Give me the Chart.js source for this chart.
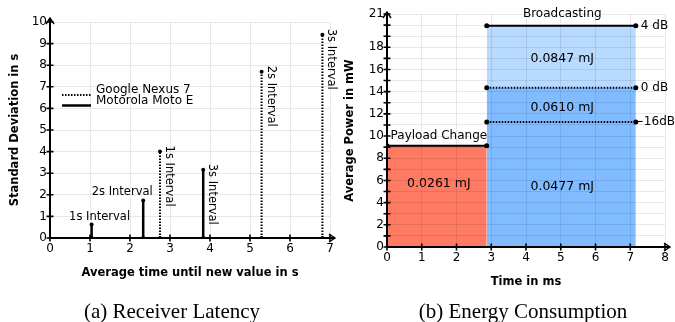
<!DOCTYPE html>
<html>
<head>
<meta charset="utf-8">
<script src="https://cdn.jsdelivr.net/npm/chart.js@4.4.1/dist/chart.umd.min.js"></script>
<style>
  body { margin: 0; background: #fff; width: 675px; height: 322px; position: relative; overflow: hidden; }
  .box { position: absolute; top: 0; height: 300px; }
  #left { left: 0; width: 338px; }
  #right { left: 338px; width: 337px; }
  .caption { position: absolute; top: 300px; width: 240px; height: 23px; line-height: 23px; text-align: center;
             font-family: "Liberation Serif", "Times New Roman", serif; font-size: 21px; color: #000; }
</style>
</head>
<body>
<div class="box" id="left"><canvas id="latencyChart" width="338" height="300"></canvas></div>
<div class="box" id="right"><canvas id="energyChart" width="337" height="300"></canvas></div>
<div class="caption" style="left:52px">(a) Receiver Latency</div>
<div class="caption" style="left:403px">(b) Energy Consumption</div>
<script>
// (a) receiver latency
const intervalNames = ['1s Interval', '2s Interval', '3s Interval'];
const nexusTime = [2.75, 5.29, 6.81];
const nexusStd = [4.0, 7.7, 9.41];
const motoTime = [1.04, 2.33, 3.83];
const motoStd = [0.62, 1.74, 3.16];
const latencyXTicks = [0, 1, 2, 3, 4, 5, 6, 7];
const latencyYTicks = [0, 1, 2, 3, 4, 5, 6, 7, 8, 9, 10];

// (b) energy consumption
const phaseNames = ['Payload Change', 'Broadcasting'];
const phaseStart = [0, 2.87];
const phaseEnd = [2.87, 7.16];
const payloadPower = 9.13;
const txPowerNames = ['−16dB', '0 dB', '4 dB'];
const txPower = [11.26, 14.36, 19.95];
const energyNames = ['0.0261 mJ', '0.0477 mJ', '0.0610 mJ', '0.0847 mJ'];
const energyXTicks = [0, 1, 2, 3, 4, 5, 6, 7, 8];
const energyYTicks = [0, 1, 2, 3, 4, 5, 6, 7, 8, 9, 10, 11, 12, 13, 14, 15, 16, 17, 18, 19, 20, 21];
const energyYLabels = [0, 2, 4, 6, 8, 10, 12, 14, 16, 18, 21];

const sans = "'DejaVu Sans', sans-serif";
Chart.defaults.font.family = sans;
Chart.defaults.font.size = 12;
Chart.defaults.color = '#000';
Chart.defaults.animation = false;

const gridColor = 'rgba(0,0,0,0.09)';
const dots = [1.5, 1.5];

function lollipops(xs, ys) {
    var pts = [];
    xs.forEach((x, i) => {
        pts.push({x: x, y: 0}, {x: x, y: ys[i]}, {x: x, y: null});
    });
    return pts;
}

function fixedTicks(values) {
    return function(scale) {
        scale.ticks = values.map((v) => ({value: v}));
    };
}

// black axes with arrow heads and small tick crosses
const axesPlugin = {
    id: 'axes',
    afterDraw(chart, args, opts) {
        var ctx = chart.ctx;
        var a = chart.chartArea;
        var sx = chart.scales.x, sy = chart.scales.y;
        var xTip = a.right + opts.arrowX, yTip = a.top - opts.arrowY;
        ctx.save();
        ctx.strokeStyle = '#000';
        ctx.lineWidth = 1.6;
        ctx.beginPath();
        sx.ticks.forEach((t) => {
            var px = sx.getPixelForValue(t.value);
            ctx.moveTo(px, a.bottom - 3.5);
            ctx.lineTo(px, a.bottom + 3.5);
        });
        sy.ticks.forEach((t) => {
            var py = sy.getPixelForValue(t.value);
            ctx.moveTo(a.left - 3.5, py);
            ctx.lineTo(a.left + 3.5, py);
        });
        ctx.stroke();
        ctx.lineWidth = 2;
        ctx.beginPath();
        ctx.moveTo(a.left, a.bottom);
        ctx.lineTo(xTip, a.bottom);
        ctx.moveTo(a.left, a.bottom);
        ctx.lineTo(a.left, yTip);
        ctx.stroke();
        ctx.lineWidth = 1.4;
        ctx.beginPath();
        ctx.moveTo(xTip - 6, a.bottom - 4);
        ctx.lineTo(xTip, a.bottom);
        ctx.lineTo(xTip - 6, a.bottom + 4);
        ctx.moveTo(a.left - 4, yTip + 6);
        ctx.lineTo(a.left, yTip);
        ctx.lineTo(a.left + 4, yTip + 6);
        ctx.stroke();
        ctx.restore();
    }
};

const latencyLabels = {
    id: 'latencyLabels',
    afterDatasetsDraw(chart) {
        var ctx = chart.ctx;
        var sx = chart.scales.x, sy = chart.scales.y;
        var a = chart.chartArea;
        ctx.save();
        ctx.fillStyle = '#000';
        ctx.font = '11.5px ' + sans;
        ctx.textBaseline = 'middle';
        // Moto E: first two labels are horizontal, the last one is rotated
        var shiftX = [8, -21];
        for (var i = 0; i < 2; i++) {
            ctx.textAlign = 'center';
            ctx.fillText(intervalNames[i], sx.getPixelForValue(motoTime[i]) + shiftX[i], sy.getPixelForValue(motoStd[i]) - 8);
        }
        var rotated = [[motoTime[2], motoStd[2], intervalNames[2]]];
        nexusTime.forEach((t, j) => rotated.push([t, nexusStd[j], intervalNames[j]]));
        rotated.forEach((r) => {
            ctx.save();
            ctx.translate(sx.getPixelForValue(r[0]) + 9, sy.getPixelForValue(r[1]) - 6);
            ctx.rotate(Math.PI / 2);
            ctx.textAlign = 'left';
            ctx.fillText(r[2], 0, 0);
            ctx.restore();
        });
        // legend inside the plot
        var lx = a.left + 12, ly = a.top + 68;
        ctx.font = '12px ' + sans;
        ctx.textAlign = 'left';
        ctx.fillText('Google Nexus 7', lx + 34, ly);
        ctx.fillText('Motorola Moto E', lx + 34, ly + 11);
        ctx.strokeStyle = '#000';
        ctx.lineWidth = 2;
        ctx.setLineDash(dots);
        ctx.beginPath();
        ctx.moveTo(lx, ly + 5);
        ctx.lineTo(lx + 29, ly + 5);
        ctx.stroke();
        ctx.setLineDash([]);
        ctx.lineWidth = 2.5;
        ctx.beginPath();
        ctx.moveTo(lx, ly + 15.5);
        ctx.lineTo(lx + 29, ly + 15.5);
        ctx.stroke();
        ctx.restore();
    }
};

new Chart(document.getElementById('latencyChart'), {
    type: 'line',
    data: {
        datasets: [{
            label: 'Google Nexus 7',
            data: lollipops(nexusTime, nexusStd),
            borderColor: '#000',
            borderWidth: 2,
            borderDash: dots,
            pointRadius: 2,
            pointBorderWidth: 0,
            pointBackgroundColor: '#000',
            spanGaps: false
        }, {
            label: 'Motorola Moto E',
            data: lollipops(motoTime, motoStd),
            borderColor: '#000',
            borderWidth: 2.5,
            pointRadius: 2,
            pointBorderWidth: 0,
            pointBackgroundColor: '#000',
            spanGaps: false
        }]
    },
    options: {
        responsive: false,
        layout: { padding: { top: 22, right: 8, left: 0, bottom: 0 } },
        plugins: { legend: { display: false }, tooltip: { enabled: false }, axes: { arrowX: 5, arrowY: 4 } },
        scales: {
            x: {
                type: 'linear', min: 0, max: 7,
                afterBuildTicks: fixedTicks(latencyXTicks),
                ticks: { padding: 4, autoSkip: false, maxRotation: 0 },
                grid: { color: gridColor, drawTicks: false, z: 1 },
                border: { display: false },
                title: { display: true, text: 'Average time until new value in s', font: { weight: 'bold', size: 11.5 }, padding: { top: 0, bottom: 20 } },
                afterFit: (s) => { s.height = 62; }
            },
            y: {
                type: 'linear', min: 0, max: 10,
                afterBuildTicks: fixedTicks(latencyYTicks),
                ticks: { padding: 3, autoSkip: false },
                grid: { color: gridColor, drawTicks: false, z: 1 },
                border: { display: false },
                title: { display: true, text: 'Standard Deviation in s', font: { weight: 'bold', size: 11.5 }, padding: { top: 8, bottom: 0 } },
                afterFit: (s) => { s.width = 50; }
            }
        }
    },
    plugins: [latencyLabels, axesPlugin]
});

function levelLine(y) {
    return [{x: phaseStart[1], y: y}, {x: phaseEnd[1], y: y}];
}

const energyLabels = {
    id: 'energyLabels',
    afterDraw(chart) {
        var ctx = chart.ctx;
        var sx = chart.scales.x, sy = chart.scales.y;
        ctx.save();
        ctx.fillStyle = '#000';
        ctx.font = '12px ' + sans;
        ctx.textBaseline = 'middle';
        ctx.textAlign = 'center';
        var midPayload = sx.getPixelForValue((phaseStart[0] + phaseEnd[0]) / 2) + 2;
        var midBroadcast = sx.getPixelForValue((phaseStart[1] + phaseEnd[1]) / 2) + 1;
        ctx.fillText(phaseNames[0], midPayload, sy.getPixelForValue(payloadPower) - 10);
        ctx.fillText(phaseNames[1], midBroadcast, sy.getPixelForValue(txPower[2]) - 12);
        ctx.font = '12.5px ' + sans;
        ctx.fillText(energyNames[0], midPayload, sy.getPixelForValue(5.7));
        ctx.fillText(energyNames[1], midBroadcast, sy.getPixelForValue(5.4));
        ctx.fillText(energyNames[2], midBroadcast, sy.getPixelForValue(12.56));
        ctx.fillText(energyNames[3], midBroadcast, sy.getPixelForValue(16.97));
        ctx.font = '12px ' + sans;
        ctx.textAlign = 'left';
        var endX = sx.getPixelForValue(phaseEnd[1]);
        var gap = [-2, 5, 5];
        txPower.forEach((p, i) => {
            ctx.fillText(txPowerNames[i], endX + gap[i], sy.getPixelForValue(p));
        });
        ctx.restore();
    }
};

const lineStyle = {
    borderColor: '#000',
    pointRadius: 2.5,
    pointBorderWidth: 0,
    pointBackgroundColor: '#000'
};

new Chart(document.getElementById('energyChart'), {
    type: 'line',
    data: {
        datasets: [
            Object.assign({
                label: phaseNames[0],
                data: [{x: phaseStart[0], y: payloadPower}, {x: phaseEnd[0], y: payloadPower}],
                borderWidth: 2,
                backgroundColor: '#ff7a62',
                fill: 'origin'
            }, lineStyle),
            Object.assign({
                label: txPowerNames[1],
                data: levelLine(txPower[1]),
                borderWidth: 2,
                borderDash: dots,
                backgroundColor: '#80bcff',
                fill: 'origin'
            }, lineStyle),
            Object.assign({
                label: txPowerNames[2],
                data: levelLine(txPower[2]),
                borderWidth: 2,
                backgroundColor: '#b9daff',
                fill: '-1'
            }, lineStyle),
            Object.assign({
                label: txPowerNames[0],
                data: levelLine(txPower[0]),
                borderWidth: 2,
                borderDash: dots,
                fill: false
            }, lineStyle)
        ]
    },
    options: {
        responsive: false,
        layout: { padding: { top: 14, right: 10, left: 0, bottom: 0 } },
        plugins: {
            legend: { display: false }, tooltip: { enabled: false },
            filler: { drawTime: 'beforeDatasetsDraw' },
            axes: { arrowX: 5, arrowY: 2 }
        },
        scales: {
            x: {
                type: 'linear', min: 0, max: 8,
                afterBuildTicks: fixedTicks(energyXTicks),
                ticks: { padding: 4, autoSkip: false, maxRotation: 0 },
                grid: { color: gridColor, drawTicks: false, z: 1 },
                border: { display: false },
                title: { display: true, text: 'Time in ms', font: { weight: 'bold', size: 11.5 }, padding: { top: 0, bottom: 11 } },
                afterFit: (s) => { s.height = 53; }
            },
            y: {
                type: 'linear', min: 0, max: 21,
                afterBuildTicks: fixedTicks(energyYTicks),
                ticks: { padding: 3, autoSkip: false, callback: (v) => energyYLabels.includes(v) ? v : '' },
                grid: { color: gridColor, drawTicks: false, z: 1 },
                border: { display: false },
                title: { display: true, text: 'Average Power in mW', font: { weight: 'bold', size: 11.5 }, padding: { top: 5, bottom: 0 } },
                afterFit: (s) => { s.width = 49; }
            }
        }
    },
    plugins: [energyLabels, axesPlugin]
});
</script>
</body>
</html>
